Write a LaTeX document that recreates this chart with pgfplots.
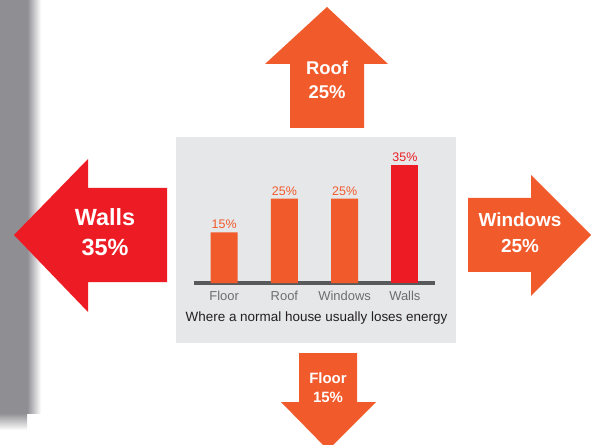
\documentclass[border=0pt]{standalone}
\usepackage{pgfplots}
\pgfplotsset{compat=1.18}
\usepackage{fontspec}
\setmainfont{Liberation Sans}

\definecolor{lossOrange}{HTML}{F15A2B}
\definecolor{lossRed}{HTML}{ED1C24}
\definecolor{panelGray}{HTML}{E6E7E8}
\definecolor{baseGray}{HTML}{58595B}
\definecolor{labelGray}{HTML}{6D6E71}
\definecolor{stripGray}{HTML}{8E8E93}
\definecolor{titleBlack}{HTML}{231F20}

\newcommand{\fs}[1]{\fontsize{#1}{#1}\selectfont}

\begin{document}
\begin{tikzpicture}
\begin{scope}[x=1bp, y=-1bp]
  \useasboundingbox (0,0) rectangle (596,445);
  \clip (0,0) rectangle (596,445);
  \fill[white] (0,0) rectangle (596,445);
  % page shadow on the left
  \fill[stripGray] (0,0) rectangle (27,413);
  \shade[left color=stripGray, right color=white] (27,0) rectangle (41,413);
  \shade[top color=stripGray, bottom color=white] (0,413) rectangle (27,430);
  % panel behind the chart
  \fill[panelGray] (176,137) rectangle (456,343);
  % arrows
  \fill[lossRed] (14,235) -- (88,159) -- (88,188) -- (167,188) -- (167,282)
    -- (88,282) -- (88,312) -- cycle;
  \fill[lossOrange] (327,7) -- (388,64) -- (364,64) -- (364,128) -- (290,128)
    -- (290,64) -- (265,64) -- cycle;
  \fill[lossOrange] (468,198) -- (531,198) -- (531,175) -- (591,235) -- (531,296)
    -- (531,272) -- (468,272) -- cycle;
  \fill[lossOrange] (299,353) -- (357,353) -- (357,402) -- (376,402) -- (328,450)
    -- (281,402) -- (299,402) -- cycle;
  % arrow texts
  \node[text=white, font=\bfseries\fs{23.5}] at (105,217) {Walls};
  \node[text=white, font=\bfseries\fs{23.5}] at (105,247) {35\%};
  \node[text=white, font=\bfseries\fs{18.5}] at (327,68) {Roof};
  \node[text=white, font=\bfseries\fs{18.5}] at (327,92) {25\%};
  \node[text=white, font=\bfseries\fs{19}] at (520,220) {Windows};
  \node[text=white, font=\bfseries\fs{19}] at (520,246) {25\%};
  \node[text=white, font=\bfseries\fs{15}] at (328,378) {Floor};
  \node[text=white, font=\bfseries\fs{15}] at (328,397) {15\%};
  % chart title
  \node[text=titleBlack, font=\fs{13.5}, anchor=base] at (316.5,321.7)
    {Where a normal house usually loses energy};
  \coordinate (ax) at (194,283);
\end{scope}
\begin{axis}[
  at={(ax)}, anchor=south west,
  scale only axis,
  width=241bp, height=134.8bp,
  xmin=-0.5, xmax=3.5,
  ymin=0, ymax=40,
  axis y line=none,
  axis x line=bottom,
  x axis line style={-, line width=4bp, draw=baseGray},
  xtick={0,1,2,3},
  xticklabels={Floor, Roof, Windows, Walls},
  major tick length=0pt,
  xticklabel style={anchor=base, yshift=-17bp, text=labelGray, font=\fs{13}},
  ybar, bar width=27bp,
  clip=false,
  /pgf/number format/assume math mode=true,
  nodes near coords={\pgfmathprintnumber{\pgfplotspointmeta}\%},
  every node near coord/.append style={font=\fs{12.5}},
]
\addplot[fill=lossOrange, draw=none, bar shift=0pt,
  every node near coord/.append style={text=lossOrange}]
  coordinates {(0,15) (1,25) (2,25)};
\addplot[fill=lossRed, draw=none, bar shift=0pt,
  every node near coord/.append style={text=lossRed}]
  coordinates {(3,35)};
\end{axis}
\end{tikzpicture}
\end{document}
